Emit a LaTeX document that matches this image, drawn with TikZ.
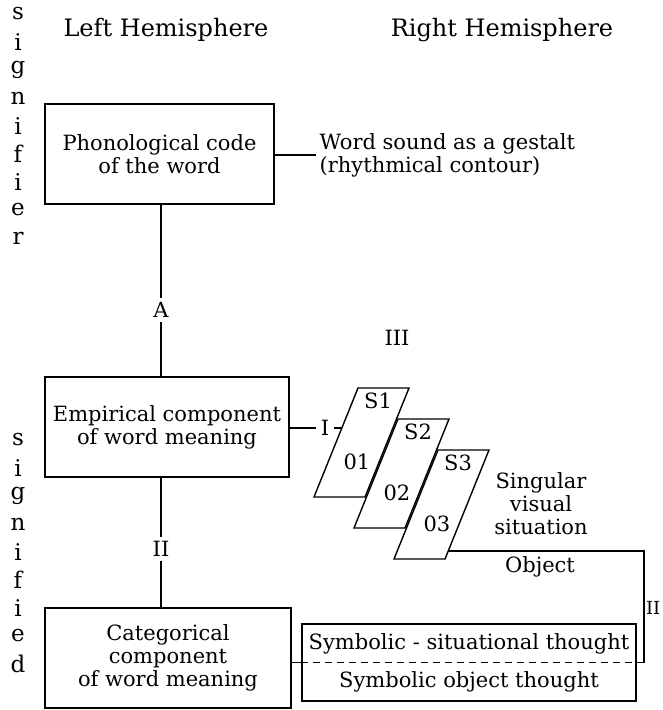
\documentclass[tikz,border=0pt]{standalone}
\usepackage{fontspec}
\setmainfont{DejaVu Serif}
\usepackage{tikz}
\usetikzlibrary{positioning,calc}

\begin{document}
\begin{tikzpicture}[
  x=1pt, y=-1pt,
  font=\fontsize{21}{23}\selectfont,
  line width=1.4pt,
  box/.style={draw, align=center, inner sep=3pt},
  txt/.style={align=center, inner sep=3pt},
  head/.style={inner sep=3pt, font=\fontsize{24}{26}\selectfont},
  vlet/.style={inner sep=0pt, font=\fontsize{23}{23}\selectfont},
  linklbl/.style={inner sep=4pt},
  para/.style={draw, fill=white, line join=miter}
]
\useasboundingbox (0,0) rectangle (662,710);
% side labels
\foreach \ch [count=\k] in {s,i,g,n,i,f,i,e,r}
  \node[vlet] (sr\k) at (18,{14+28*(\k-1)}) {\ch};
\foreach \ch [count=\k] in {s,i,g,n,i,f,i,e,d}
  \node[vlet] (sd\k) at (18,{440+28*(\k-1)}) {\ch};
\node[head] (lefth) at (166,30) {Left Hemisphere};
\node[head] (righth) at (502,30) {Right Hemisphere};
% left column
\node[box, minimum width=229pt, minimum height=100pt] (phon) at (159.5,154) {Phonological code\\of the word};
\node[txt, anchor=west, align=left] (gestalt) at (316,155) {Word sound as a gestalt\\(rhythmical contour)};
\node[box, minimum width=244pt, minimum height=100pt] (emp) at (167,427) {Empirical component\\of word meaning};
\node[box, minimum width=246pt, minimum height=100pt] (cat) at (168,658) {Categorical\\component\\of word meaning};
\node[linklbl] (A) at (161,310) {A};
\node[linklbl] (II) at (161,549) {II};
\draw (A) -- (A |- phon.south);
\draw (A) -- (A |- emp.north);
\draw (II) -- (II |- emp.south);
\draw (II) -- (II |- cat.north);
\draw (phon.east |- gestalt.west) -- (gestalt.west);
% visual situations
\foreach \i in {1,2,3} {
  \coordinate (tl\i) at ({358+40*(\i-1)},{388+31*(\i-1)});
  \draw[para] (tl\i) -- ++(51,0) -- ++(-44,109) -- ++(-51,0) -- cycle;
  \node[inner sep=0pt] (s\i) at ($(tl\i)+(20,13)$) {S\i};
  \node[inner sep=0pt] (o\i) at ($(tl\i)+(-1,74)$) {0\i};
}
\coordinate (p1edge) at ($(tl1)+(-16,40)$);
\coordinate (p3edge) at ($(tl3)+(10,101)$);
\node[linklbl] (I) at (325,428) {I};
\node[txt] (III) at (397,338) {III};
\draw (emp.east |- I.west) -- (I.west);
\draw (I.east) -- (I.east -| p1edge);
\node[txt, inner sep=0pt] (sing) at (541,504) {Singular\\visual\\situation};
\node[txt] (obj) at (540,567) {Object};
% symbolic thought
\node[draw, minimum width=334pt, minimum height=77pt] (sym) at (469,662.5) {};
\node[txt] (symsit) at (469,644) {Symbolic - situational thought};
\node[txt] (symobj) at (469,682) {Symbolic object thought};
\coordinate (brk) at (644,551);
\node[anchor=east, inner sep=1pt, font=\fontsize{18}{18}\selectfont] (IIr) at (662,608) {II};
\draw (p3edge) -- (brk) -- (brk |- sym.center);
\draw[dash pattern=on 7pt off 5pt] (brk |- sym.center) -- (sym.west);
\draw (sym.west) -- (cat.east |- sym.west);
\end{tikzpicture}
\end{document}
